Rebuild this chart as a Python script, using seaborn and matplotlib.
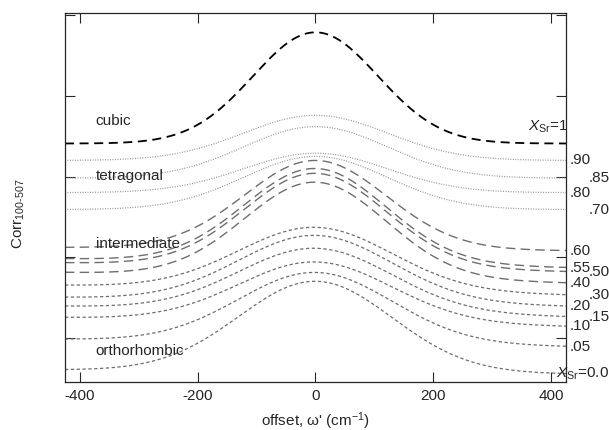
import numpy as np
import pandas as pd
import matplotlib
matplotlib.use("Agg")
import matplotlib.pyplot as plt
import matplotlib.transforms as mtransforms
import seaborn as sns

# --------------------------------------
# Data
# (Corr in arbitrary units, one unit = one y tick)
# --------------------------------------
x_sr = ["1", ".90", ".85", ".80", ".70", ".60", ".55", ".50", ".40",
        ".30", ".20", ".15", ".10", ".05", "0.0"]
phase = ["cubic"] + ["tetragonal"] * 4 + ["intermediate"] * 4 + ["orthorhombic"] * 6

base_left = [3.41, 3.20, 2.98, 2.80, 2.59, 2.12, 1.98, 1.93, 1.81,
             1.65, 1.50, 1.39, 1.25, 0.98, 0.60]
base_right = [3.41, 3.20, 2.98, 2.80, 2.59, 2.08, 1.87, 1.82, 1.68,
              1.53, 1.39, 1.26, 1.14, 0.89, 0.55]
peak = [4.79, 3.76, 3.62, 3.29, 3.25, 3.20, 3.10, 3.04, 2.93,
        2.37, 2.27, 2.11, 1.94, 1.81, 1.70]
sigma = [106, 122, 122, 122, 122, 120, 120, 120, 120,
         130, 130, 130, 130, 130, 130]

# label column on the right (0 = near the axis, 1 = shifted out)
label_col = [None, 0, 1, 0, 1, 0, 0, 1, 0, 1, 0, 1, 0, 0, None]

phase_names = ["cubic", "tetragonal", "intermediate", "orthorhombic"]
phase_label_y = [3.69, 3.01, 2.16, 0.83]

xticks = [-400, -200, 0, 200, 400]

# --------------------------------------
# Build long form table of the profiles
# --------------------------------------
omega = np.linspace(-425, 425, 401)
rows = []
for i in range(len(x_sr)):
    b = base_left[i] + (base_right[i] - base_left[i]) * (omega + 425) / 850
    b0 = 0.5 * (base_left[i] + base_right[i])
    y = b + (peak[i] - b0) * np.exp(-omega ** 2 / (2 * sigma[i] ** 2))
    rows.append(pd.DataFrame({"omega": omega, "corr": y, "xsr": x_sr[i], "phase": phase[i]}))
df = pd.concat(rows, ignore_index=True)

# --------------------------------------
# Style
# --------------------------------------
sns.set_style("ticks")
plt.rcParams["font.family"] = ["Liberation Sans", "DejaVu Sans"]
plt.rcParams["mathtext.fontset"] = "custom"
plt.rcParams["mathtext.rm"] = "Liberation Sans"
plt.rcParams["mathtext.it"] = "Liberation Sans:italic"
plt.rcParams["axes.unicode_minus"] = False
plt.rcParams["lines.scale_dashes"] = False

styles = {
    "cubic": dict(color="black", lw=1.3, ls=(0, (6.5, 4.0))),
    "tetragonal": dict(color="#939393", lw=0.9, ls=(0, (0.7, 1.1))),
    "intermediate": dict(color="#6e6e6e", lw=1.0, ls=(0, (6.8, 3.8))),
    "orthorhombic": dict(color="#6e6e6e", lw=0.9, ls=(0, (2.4, 1.8))),
}

fs = 11

fig = plt.figure(figsize=(6.09, 4.30), dpi=100)
ax = fig.add_axes([0.1067, 0.1116, 0.8227, 0.8582])

for name in x_sr:
    sub = df[df["xsr"] == name]
    st = styles[sub["phase"].iloc[0]]
    sns.lineplot(data=sub, x="omega", y="corr", ax=ax, estimator=None, sort=False,
                 color=st["color"], linewidth=st["lw"], linestyle=st["ls"])

ax.set_xlim(-425, 425)
ax.set_ylim(0.45, 5.03)
ax.set_xticks(xticks)
ax.set_yticks([1, 2, 3, 4, 5])
ax.tick_params(direction="in", top=True, right=True, length=7, width=0.8,
               labelleft=False, labelsize=fs, pad=5)
for sp in ax.spines.values():
    sp.set_linewidth(0.9)

ax.set_xlabel("offset, ω' (cm$^{-1}$)", fontsize=fs, labelpad=5)
ax.set_ylabel("Corr$_{100\u2011507}$", fontsize=fs)
ax.yaxis.set_label_coords(-0.075, 0.455)

# phase names
for name, yy in zip(phase_names, phase_label_y):
    ax.text(-373, yy, name, fontsize=fs, va="center", ha="left")

# composition labels at the right edge
trans = mtransforms.blended_transform_factory(ax.transAxes, ax.transData)
for i, lab in enumerate(x_sr):
    if label_col[i] is None:
        continue
    xx = 1.008 if label_col[i] == 0 else 1.046
    ax.text(xx, base_right[i], lab, transform=trans, fontsize=fs,
            va="center", ha="left", clip_on=False)
ax.text(0.925, 3.62, "$X_{\\mathrm{Sr}}$=1", transform=trans, fontsize=fs,
        va="center", ha="left", clip_on=False)
ax.text(0.98, 0.553, "$X_{\\mathrm{Sr}}$=0.0", transform=trans, fontsize=fs,
        va="center", ha="left", clip_on=False)

fig.savefig("out.png", dpi=100)
